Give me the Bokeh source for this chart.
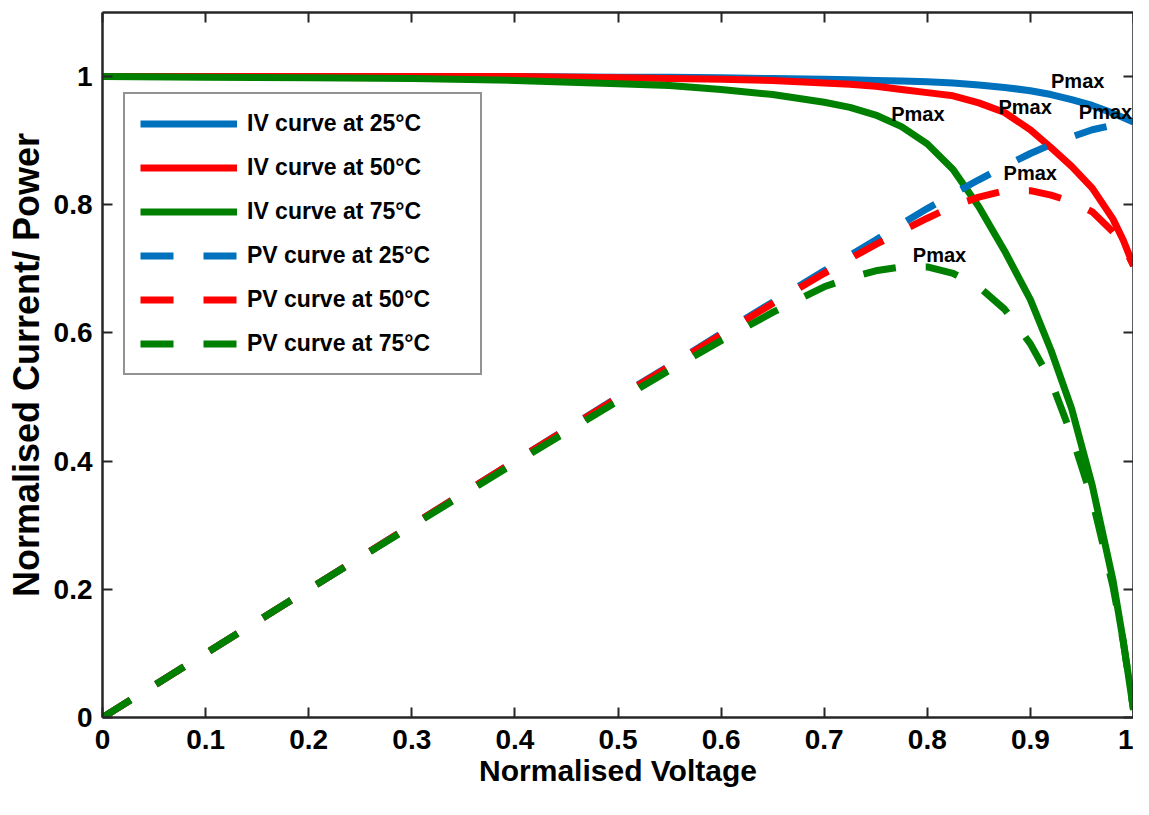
from bokeh.plotting import figure
from bokeh.models import Range1d, FixedTicker, LinearAxis, Legend, LegendItem, ColumnDataSource
from bokeh.core.properties import value
from bokeh.embed import file_html
from bokeh.resources import INLINE

# ---- data ----
voltage = [0.0, 0.1, 0.2, 0.3, 0.4, 0.5, 0.55, 0.6, 0.65, 0.7, 0.725, 0.75, 0.775,
           0.8, 0.825, 0.85, 0.875, 0.9, 0.92, 0.94, 0.96, 0.98, 0.99, 1.0]

iv_25 = [1.0, 1.0, 1.0, 1.0, 1.0, 0.999, 0.999, 0.998, 0.997, 0.996, 0.995, 0.994, 0.993,
         0.992, 0.990, 0.987, 0.983, 0.978, 0.972, 0.964, 0.955, 0.943, 0.936, 0.929]
iv_50 = [1.0, 1.0, 1.0, 1.0, 1.0, 0.998, 0.997, 0.996, 0.994, 0.990, 0.988, 0.985, 0.980,
         0.975, 0.970, 0.959, 0.944, 0.917, 0.889, 0.860, 0.826, 0.778, 0.745, 0.705]
iv_75 = [1.0, 0.999, 0.998, 0.997, 0.994, 0.989, 0.986, 0.980, 0.972, 0.960, 0.952, 0.940, 0.922,
         0.895, 0.855, 0.797, 0.728, 0.652, 0.573, 0.482, 0.362, 0.215, 0.120, 0.012]

pv_25 = [0.0, 0.1, 0.2, 0.3, 0.4, 0.5, 0.549, 0.599, 0.648, 0.697, 0.721, 0.745, 0.770,
         0.794, 0.817, 0.839, 0.860, 0.880, 0.894, 0.906, 0.917, 0.924, 0.927, 0.929]
pv_50 = [0.0, 0.1, 0.2, 0.3, 0.4, 0.499, 0.548, 0.597, 0.646, 0.693, 0.716, 0.738, 0.759,
         0.779, 0.798, 0.812, 0.822, 0.822, 0.815, 0.805, 0.789, 0.758, 0.737, 0.705]
pv_75 = [0.0, 0.1, 0.2, 0.299, 0.397, 0.494, 0.542, 0.588, 0.632, 0.672, 0.686, 0.697, 0.703,
         0.703, 0.693, 0.672, 0.637, 0.583, 0.525, 0.440, 0.340, 0.205, 0.119, 0.012]

series_names = ["IV curve at 25°C", "IV curve at 50°C", "IV curve at 75°C",
                "PV curve at 25°C", "PV curve at 50°C", "PV curve at 75°C"]

pmax_x = [0.765, 0.869, 0.920, 0.947, 0.874, 0.786]
pmax_y = [0.942, 0.953, 0.993, 0.945, 0.850, 0.721]
pmax_text = ["Pmax", "Pmax", "Pmax", "Pmax", "Pmax", "Pmax"]

x_ticks = [0, 0.1, 0.2, 0.3, 0.4, 0.5, 0.6, 0.7, 0.8, 0.9, 1]
x_tick_labels = ["0", "0.1", "0.2", "0.3", "0.4", "0.5", "0.6", "0.7", "0.8", "0.9", "1"]
y_ticks = [0, 0.2, 0.4, 0.6, 0.8, 1]
y_tick_labels = ["0", "0.2", "0.4", "0.6", "0.8", "1"]

# ---- styling ----
FONT = "Liberation Sans"
AX = "#262626"
BLUE, RED, GREEN = "#0072BD", "#FF0000", "#008000"

p = figure(width=1133, height=799, x_range=Range1d(0, 1), y_range=Range1d(0, 1.1),
           output_backend="svg", toolbar_location=None,
           min_border_left=102, min_border_bottom=82, min_border_top=12, min_border_right=0)
p.background_fill_color = "white"
p.border_fill_color = "white"
p.outline_line_color = None
p.xgrid.visible = False
p.ygrid.visible = False

def style_axis(ax, ticks, labels, show_labels):
    ax.ticker = FixedTicker(ticks=ticks)
    ax.minor_tick_line_color = None
    ax.major_tick_in = 10
    ax.major_tick_out = 0
    ax.major_tick_line_width = 2
    ax.major_tick_line_color = AX
    ax.axis_line_width = 2.5
    ax.axis_line_color = AX
    if show_labels:
        ax.major_label_overrides = dict(zip(ticks, labels))
        ax.major_label_text_font = FONT
        ax.major_label_text_font_style = "bold"
        ax.major_label_text_font_size = "28px"
        ax.major_label_text_color = "black"
    else:
        ax.major_label_overrides = {t: "" for t in ticks}
        ax.major_label_text_font_size = "0px"
        ax.major_label_standoff = 0

style_axis(p.xaxis[0], x_ticks, x_tick_labels, True)
style_axis(p.yaxis[0], y_ticks, y_tick_labels, True)
p.xaxis[0].major_label_standoff = 12
p.yaxis[0].major_label_standoff = 10
p.xaxis[0].axis_label = "Normalised Voltage"
p.yaxis[0].axis_label = "Normalised Current/ Power"
for ax, size, so in ((p.xaxis[0], "30px", 2), (p.yaxis[0], "36px", 4)):
    ax.axis_label_text_font = FONT
    ax.axis_label_text_font_style = "bold"
    ax.axis_label_text_font_size = size
    ax.axis_label_text_color = "black"
    ax.axis_label_standoff = so

top = LinearAxis()
style_axis(top, x_ticks, x_tick_labels, False)
p.add_layout(top, "above")
right = LinearAxis()
style_axis(right, y_ticks, y_tick_labels, False)
p.add_layout(right, "right")

src = ColumnDataSource(dict(v=voltage, iv25=iv_25, iv50=iv_50, iv75=iv_75,
                            pv25=pv_25, pv50=pv_50, pv75=pv_75))

renderers = []
for col, color in (("iv25", BLUE), ("iv50", RED), ("iv75", GREEN)):
    renderers.append(p.line("v", col, source=src, line_color=color, line_width=7,
                            line_join="round"))
for col, color in (("pv25", BLUE), ("pv50", RED), ("pv75", GREEN)):
    renderers.append(p.line("v", col, source=src, line_color=color, line_width=7,
                            line_dash="33 30", line_cap="butt"))

p.text(x=pmax_x, y=pmax_y, text=pmax_text, text_font=value(FONT), text_font_style="bold",
       text_font_size="20px", text_color="black", text_align="left", text_baseline="middle")

legend = Legend(items=[LegendItem(label=n, renderers=[r]) for n, r in zip(series_names, renderers)],
                location=(21, 342))
legend.label_text_font = FONT
legend.label_text_font_style = "bold"
legend.label_text_font_size = "23px"
legend.label_text_color = "black"
legend.glyph_width = 97
legend.glyph_height = 29
legend.label_height = 29
legend.label_width = 218
legend.label_standoff = 10
legend.spacing = 15
legend.padding = 15
legend.margin = 0
legend.border_line_color = AX
legend.border_line_width = 2.5
legend.background_fill_color = "white"
legend.background_fill_alpha = 1.0
p.add_layout(legend, "center")

open("out.html", "w").write(file_html(p, INLINE))
